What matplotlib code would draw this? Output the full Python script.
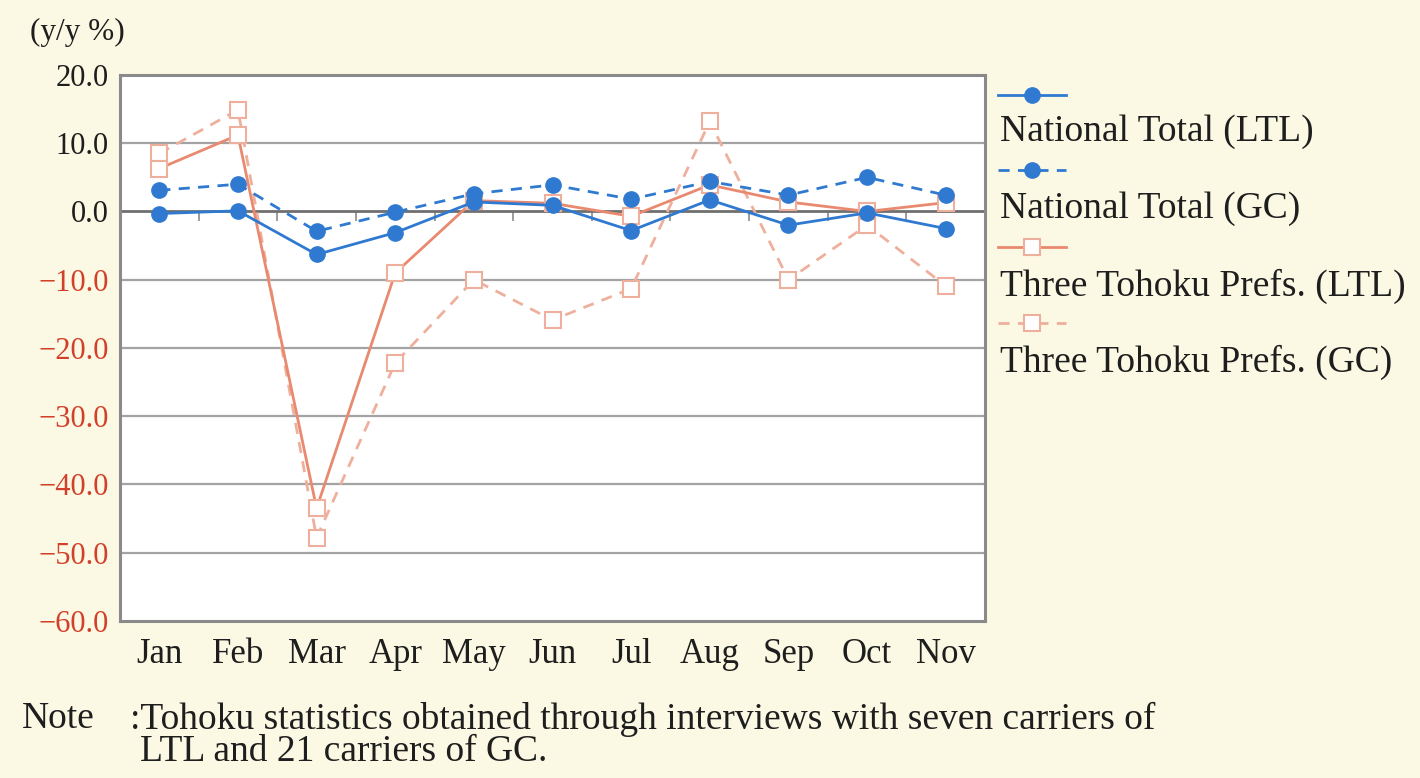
import matplotlib.pyplot as plt
from matplotlib.lines import Line2D

# ----- data (y/y %) -----
months = ["Jan", "Feb", "Mar", "Apr", "May", "Jun", "Jul", "Aug", "Sep", "Oct", "Nov"]
national_ltl = [-0.3, 0.1, -6.3, -3.1, 1.4, 0.9, -2.8, 1.7, -2.0, -0.2, -2.5]
national_gc = [3.1, 4.0, -2.9, -0.1, 2.6, 3.9, 1.8, 4.4, 2.4, 5.0, 2.4]
tohoku_ltl = [6.3, 11.2, -43.5, -9.0, 1.6, 1.2, -0.7, 3.9, 1.4, 0.0, 1.3]
tohoku_gc = [8.5, 14.9, -47.8, -22.2, -10.0, -15.9, -11.3, 13.2, -10.0, -2.0, -10.9]
yticks = [20, 10, 0, -10, -20, -30, -40, -50, -60]

labels = ["National Total (LTL)", "National Total (GC)",
          "Three Tohoku Prefs. (LTL)", "Three Tohoku Prefs. (GC)"]

BG = "#fbf9e3"
BLUE = "#2f7ad0"
ORANGE = "#e98a70"
ORANGE_L = "#eeb09c"
TXT = "#1e1e1e"
SERIF = ["Liberation Serif", "DejaVu Serif"]

plt.rcParams["font.family"] = SERIF

fig = plt.figure(figsize=(14.2, 7.78), dpi=100, facecolor=BG)
ax = fig.add_axes([0.0845, 0.2018, 0.6092, 0.7018])
ax.set_facecolor("white")

x = list(range(len(months)))
styles = [
    dict(color=BLUE, ls="-", marker="o", ms=11, mfc=BLUE, mec=BLUE, lw=2.0),
    dict(color=BLUE, ls=(0, (4, 3)), marker="o", ms=11, mfc=BLUE, mec=BLUE, lw=2.0),
    dict(color=ORANGE, ls="-", marker="s", ms=11, mfc="white", mec=ORANGE_L, mew=1.5, lw=2.0),
    dict(color=ORANGE_L, ls=(0, (4, 3)), marker="s", ms=11, mfc="white", mec=ORANGE_L, mew=1.5, lw=2.0),
]
series = [national_ltl, national_gc, tohoku_ltl, tohoku_gc]
# draw orange first so the blue dots sit on top
for i in [3, 2, 1, 0]:
    ax.plot(x, series[i], zorder=3 + (i < 2), **styles[i])

ax.set_xlim(-0.5, len(months) - 0.5)
ax.set_ylim(-60, 20)
ax.set_yticks(yticks)
ax.set_yticklabels([f"{v:.1f}" if v >= 0 else f"\u2212{-v:.1f}" for v in yticks])
ax.set_xticks(x)
ax.set_xticklabels(months)
ax.tick_params(axis="both", length=0, labelsize=22, colors=TXT, pad=8)
ax.tick_params(axis="x", labelsize=25, pad=12)
for t, v in zip(ax.get_yticklabels(), yticks):
    t.set_color("#d2402a" if v < 0 else TXT)

for v in yticks[1:-1]:
    ax.axhline(v, color="#6f6f6f" if v == 0 else "#a3a3a3",
               lw=2.0 if v == 0 else 1.6, zorder=1)
for s in ax.spines.values():
    s.set_color("#8a8a8a")
    s.set_linewidth(2.2)

# small tick marks on the zero line between months
zero_frac = (0 - (-60)) / 80
sec = ax.secondary_xaxis(zero_frac)
sec.set_xticks([i + 0.5 for i in range(len(months) - 1)])
sec.tick_params(direction="out", length=7, width=1.2, color="#8a8a8a", labelbottom=False,
                labeltop=False, top=False, bottom=True)
sec.spines["bottom"].set_visible(False)
sec.spines["top"].set_visible(False)

# ----- legend: handle above each label -----
W, H = 1420, 778
handle_y = [95, 170, 247, 323]
label_y = [132, 209, 286, 362]
for i in range(4):
    st = dict(styles[i])
    fy = 1 - handle_y[i] / H
    fig.add_artist(Line2D([998 / W, 1066 / W], [fy, fy], transform=fig.transFigure,
                          color=st["color"], ls=st["ls"], lw=st["lw"]))
    fig.add_artist(Line2D([1032 / W], [fy], transform=fig.transFigure, ls="none",
                          marker=st["marker"], ms=st["ms"], mfc=st["mfc"], mec=st["mec"],
                          mew=st.get("mew", 1)))
    fig.text(1000 / W, 1 - label_y[i] / H, labels[i], fontsize=27, color=TXT,
             ha="left", va="center")

fig.text(30 / W, 1 - 32 / H, "(y/y %)", fontsize=22.5, color=TXT, ha="left", va="center")
fig.text(22 / W, 1 - 719 / H, "Note", fontsize=27, color=TXT, ha="left", va="center")
fig.text(130 / W, 1 - 719 / H, ":Tohoku statistics obtained through interviews with seven carriers of",
         fontsize=27, color=TXT, ha="left", va="center")
fig.text(140 / W, 1 - 752 / H, "LTL and 21 carriers of GC.",
         fontsize=27, color=TXT, ha="left", va="center")

fig.savefig("out.png", dpi=100, facecolor=BG)
